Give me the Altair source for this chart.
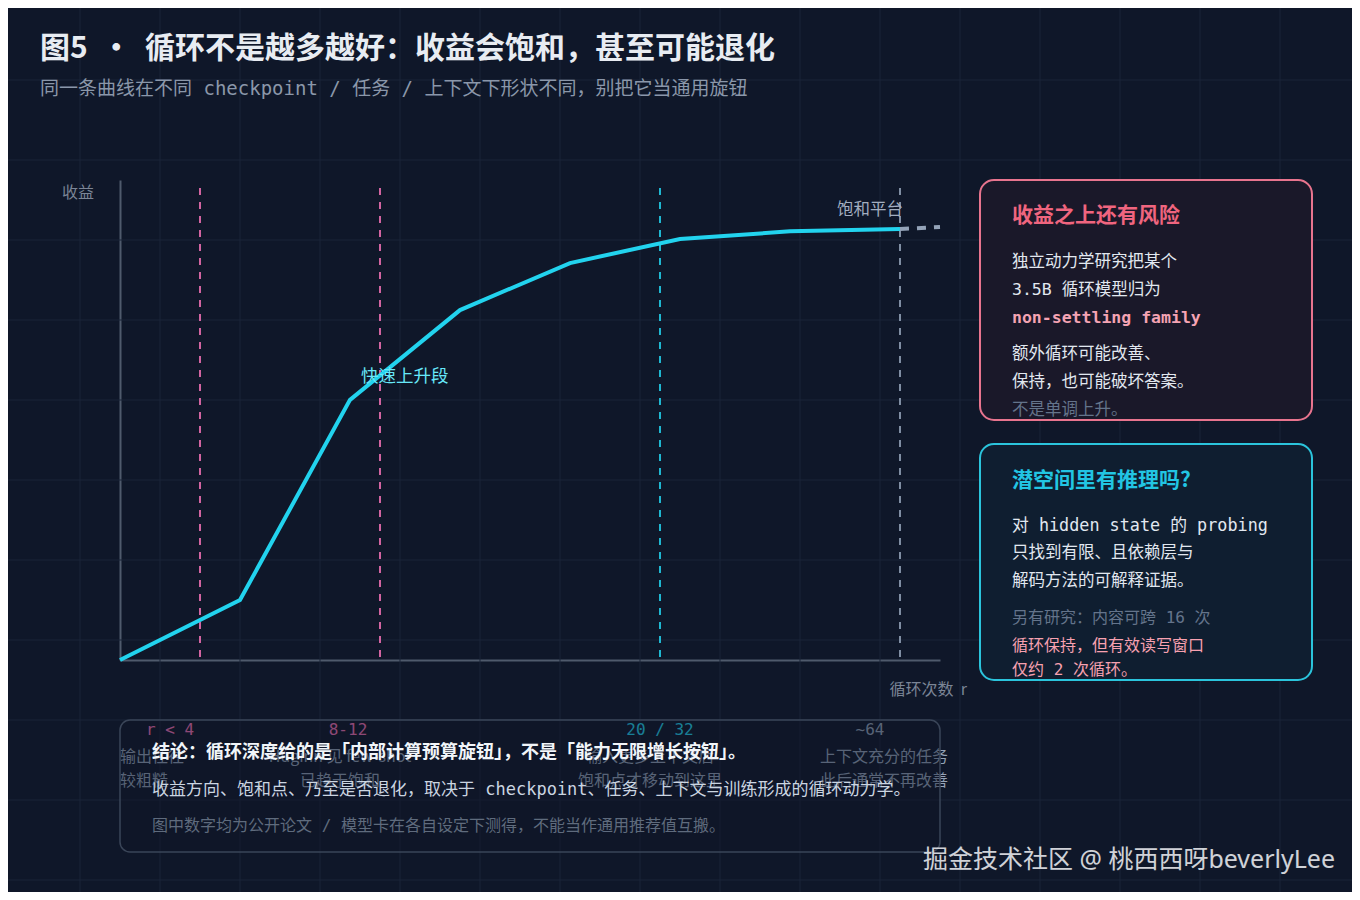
import altair as alt
import pandas as pd

# ---------------- data ----------------
title_text = "图5\u00a0\u00a0·\u00a0\u00a0循环不是越多越好：收益会饱和，甚至可能退化"
subtitle_text = "同一条曲线在不同 checkpoint / 任务 / 上下文下形状不同，别把它当通用旋钮"

loop_pos = [0, 12, 23, 34, 45, 56, 67, 78]
gain = [0, 12.5, 54.2, 72.9, 82.7, 87.7, 89.3, 89.8]
plateau_pos = [78, 82]
plateau_gain = [89.8, 90.2]

marker_pos = [8, 26, 54, 78]
marker_label = ["r < 4", "8-12", "20 / 32", "~64"]
marker_kind = ["早期", "中段", "后段", "上限"]
marker_note1 = ["输出往往", "Huginn 见 few-shot", "输入更多上下文后", "上下文充分的任务"]
marker_note2 = ["较粗糙", "已趋于饱和", "饱和点才移动到这里", "此后通常不再改善"]

curve_notes = ["快速上升段", "饱和平台"]
axis_titles = ["收益", "循环次数\u00a0\u00a0r"]

conclusion_lines = [
    "结论：循环深度给的是「内部计算预算旋钮」，不是「能力无限增长按钮」。",
    "收益方向、饱和点、乃至是否退化，取决于 checkpoint、任务、上下文与训练形成的循环动力学。",
    "图中数字均为公开论文 / 模型卡在各自设定下测得，不能当作通用推荐值互搬。",
]
risk_title = "收益之上还有风险"
risk_lines = ["独立动力学研究把某个", "3.5B 循环模型归为", "non-settling family",
              "额外循环可能改善、", "保持，也可能破坏答案。", "不是单调上升。"]
latent_title = "潜空间里有推理吗?"
latent_lines = ["对 hidden state 的 probing", "只找到有限、且依赖层与", "解码方法的可解释证据。",
                "另有研究：内容可跨 16 次", "循环保持，但有效读写窗口", "仅约 2 次循环。"]
watermark = "掘金技术社区 @ 桃西西呀beverlyLee"

grid_cols = list(range(18))
grid_rows = list(range(12))

# ---------------- styles ----------------
BG = "#0f1729"
SANS = "'Noto Sans CJK SC', sans-serif"
MONO = "'DejaVu Sans Mono', 'Noto Sans CJK SC', monospace"
LATIN = "'Noto Sans', 'Noto Sans CJK SC', sans-serif"
PINK = "#f472b6"
CYAN = "#22d3ee"
GRAY = "#94a3b8"

df_line = pd.DataFrame({"pos": loop_pos, "gain": gain})
df_plat = pd.DataFrame({"pos": plateau_pos, "gain": plateau_gain})
df_m = pd.DataFrame({"pos": marker_pos, "label": marker_label, "kind": marker_kind,
                     "note1": marker_note1, "note2": marker_note2})
dummy = pd.DataFrame({"k": [0]})

xs = alt.Scale(domain=[0, 82], nice=False, zero=False)
ys = alt.Scale(domain=[0, 100], nice=False, zero=False)
cs = alt.Scale(domain=marker_kind, range=[PINK, PINK, CYAN, GRAY])


def txt(text, x, y, size, color, font=MONO, weight="normal", align="left", opacity=1.0):
    return alt.Chart(dummy).mark_text(
        text=text, font=font, fontSize=size, fontWeight=weight, color=color,
        align=align, baseline="middle", opacity=opacity,
    ).encode(x=alt.value(x), y=alt.value(y))


def box(x, x2, y, y2, fill, stroke, sw, r, fo=1.0):
    return alt.Chart(dummy).mark_rect(
        fill=fill, fillOpacity=fo, stroke=stroke, strokeWidth=sw, cornerRadius=r
    ).encode(x=alt.value(x), x2=alt.value(x2), y=alt.value(y), y2=alt.value(y2))


layers = []

# background grid (page-pixel grid, 80px)
layers.append(
    alt.Chart(pd.DataFrame({"g": grid_cols})).mark_rule(color="#1b2538", strokeWidth=1).encode(
        x=alt.X("g:Q", scale=alt.Scale(domain=[0, 17], range=[-120, 1240], nice=False, zero=False), axis=None),
        y=alt.value(-180), y2=alt.value(720))
)
layers.append(
    alt.Chart(pd.DataFrame({"g": grid_rows})).mark_rule(color="#1b2538", strokeWidth=1).encode(
        y=alt.Y("g:Q", scale=alt.Scale(domain=[0, 11], range=[-180, 700], nice=False, zero=False), axis=None),
        x=alt.value(-120), x2=alt.value(1240))
)

# vertical dashed marker lines
layers.append(
    alt.Chart(df_m).mark_rule(strokeWidth=2, strokeDash=[7, 7], opacity=0.85).encode(
        x=alt.X("pos:Q", scale=xs, axis=None),
        y=alt.value(8), y2=alt.value(480),
        color=alt.Color("kind:N", scale=cs, legend=None))
)

# main curve (with axes)
ax = alt.Axis(domain=True, domainColor="#4f5a6c", domainWidth=2, ticks=False, labels=False,
              grid=False, title=None)
layers.append(
    alt.Chart(df_line).mark_line(color=CYAN, strokeWidth=4).encode(
        x=alt.X("pos:Q", scale=xs, axis=ax),
        y=alt.Y("gain:Q", scale=ys, axis=ax))
)
layers.append(
    alt.Chart(df_plat).mark_line(color=GRAY, strokeWidth=4, strokeDash=[9, 8]).encode(
        x=alt.X("pos:Q", scale=xs, axis=None),
        y=alt.Y("gain:Q", scale=ys, axis=None))
)

# curve annotations and axis titles
layers.append(txt(curve_notes[0], 241, 197, 17.5, "#67e8f9", font=SANS))
layers.append(txt(curve_notes[1], 783, 30, 16.5, "#a3aec0", font=SANS, align="right"))
layers.append(txt(axis_titles[0], -26, 13, 16, "#7b8596", font=SANS, align="right"))
layers.append(txt(axis_titles[1], 847, 510, 16, "#7b8596", font=SANS, align="right"))

# marker labels and notes (partly behind the conclusion box)
label_dx = [-30, -32, 0, -30]
note_dx = [-80, -40, -10, -16]
note_align = ["left", "center", "center", "center"]
for i, lab in enumerate(marker_label):
    base = alt.Chart(df_m).transform_filter(alt.datum.label == lab)
    layers.append(base.mark_text(font=MONO, fontSize=16, baseline="middle", align="center", dx=label_dx[i]).encode(
        x=alt.X("pos:Q", scale=xs, axis=None), y=alt.value(550), text="label:N",
        color=alt.Color("kind:N", scale=cs, legend=None)))
    layers.append(base.mark_text(font=SANS, fontSize=16, baseline="middle", align=note_align[i],
                                 dx=note_dx[i], color=GRAY).encode(
        x=alt.X("pos:Q", scale=xs, axis=None), y=alt.value(577), text="note1:N"))
    layers.append(base.mark_text(font=SANS, fontSize=16, baseline="middle", align=note_align[i],
                                 dx=note_dx[i], color=GRAY).encode(
        x=alt.X("pos:Q", scale=xs, axis=None), y=alt.value(601), text="note2:N"))

# conclusion box
layers.append(box(0, 820, 540, 672, BG, "#3a4558", 1.5, 10, fo=0.45))
layers.append(txt(conclusion_lines[0], 32, 573, 18, "#f1f5f9", weight="bold"))
layers.append(txt(conclusion_lines[1], 32, 610, 17, "#cbd5e1"))
layers.append(txt(conclusion_lines[2], 32, 646, 16, "#5f6b7d"))

# right box 1: risk
layers.append(box(860, 1192, 0, 240, "#1a1829", "#e8748e", 2, 14))
layers.append(txt(risk_title, 892, 36, 21, "#f0657f", font=SANS, weight="bold"))
risk_y = [82, 110, 138, 174, 202, 230]
risk_col = ["#e2e8f0", "#e2e8f0", "#f5a3b3", "#e2e8f0", "#e2e8f0", "#64748b"]
risk_w = ["normal", "normal", "bold", "normal", "normal", "normal"]
for t, y, c, w in zip(risk_lines, risk_y, risk_col, risk_w):
    layers.append(txt(t, 892, y, 16.5, c, weight=w))

# right box 2: latent reasoning
layers.append(box(860, 1192, 264, 500, "#0f1e30", "#2bc4dc", 2, 14))
layers.append(txt(latent_title, 892, 301, 21, "#22c5e3", font=SANS, weight="bold"))
latent_y = [346, 373, 401, 438, 466, 490]
latent_col = ["#e2e8f0", "#e2e8f0", "#e2e8f0", "#64748b", "#f7a1b0", "#f7a1b0"]
latent_size = [16.8, 16.5, 16.5, 16, 16, 16]
for t, y, c, s in zip(latent_lines, latent_y, latent_col, latent_size):
    layers.append(txt(t, 892, y, s, c))

# titles
layers.append(txt(title_text, -80, -131, 30, "#e8ecf2", font=SANS, weight="bold"))
layers.append(txt(subtitle_text, -80, -91, 19, "#8b97aa"))

# watermark
layers.append(txt(watermark, 1215, 680, 25, "#e5e7eb", font=LATIN, align="right", opacity=0.9))

chart = alt.layer(*layers).resolve_scale(x="independent", y="independent").properties(
    width=820, height=480,
    padding={"left": 112, "top": 172, "right": 412, "bottom": 232},
    autosize=alt.AutoSizeParams(type="none"),
    background=BG,
).configure_view(stroke=None)

chart.save("out.html", embed_options={"renderer": "svg", "actions": False})
